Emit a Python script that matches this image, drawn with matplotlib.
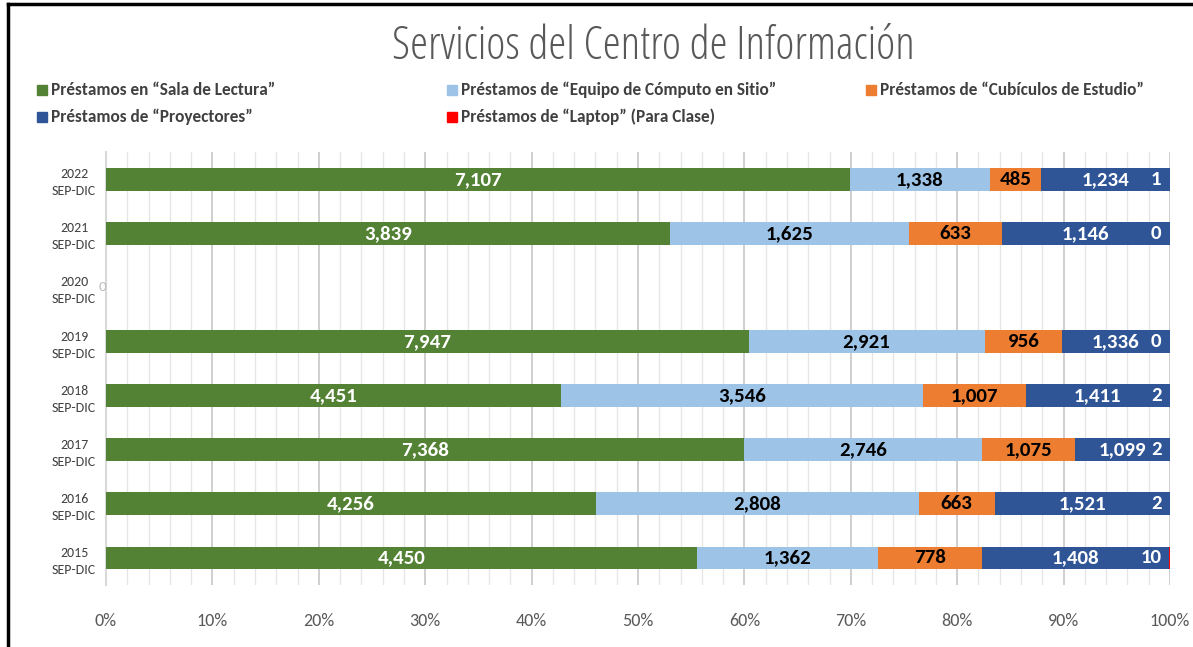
import numpy as np
import matplotlib
matplotlib.use("Agg")
import matplotlib.pyplot as plt
from matplotlib.patches import Rectangle
from matplotlib.lines import Line2D
from matplotlib.ticker import MultipleLocator, PercentFormatter

plt.rcParams['font.family'] = ['Carlito', 'DejaVu Sans']

# categories bottom -> top
periods = ["2015\nSEP-DIC", "2016\nSEP-DIC", "2017\nSEP-DIC", "2018\nSEP-DIC",
           "2019\nSEP-DIC", "2020\nSEP-DIC", "2021\nSEP-DIC", "2022\nSEP-DIC"]

sala_lectura = [4450, 4256, 7368, 4451, 7947, 0, 3839, 7107]
equipo_computo = [1362, 2808, 2746, 3546, 2921, 0, 1625, 1338]
cubiculos = [778, 663, 1075, 1007, 956, 0, 633, 485]
proyectores = [1408, 1521, 1099, 1411, 1336, 0, 1146, 1234]
laptop = [10, 2, 2, 2, 0, 0, 0, 1]

series_names = ["Préstamos en \u201cSala de Lectura\u201d",
                "Préstamos de \u201cEquipo de Cómputo en Sitio\u201d",
                "Préstamos de \u201cCubículos de Estudio\u201d",
                "Préstamos de \u201cProyectores\u201d",
                "Préstamos de \u201cLaptop\u201d (Para Clase)"]
colors = ["#548235", "#9DC3E6", "#ED7D31", "#2F5597", "#FF0000"]
label_colors = ["white", "black", "black", "white", "white"]

data = np.array([sala_lectura, equipo_computo, cubiculos, proyectores, laptop], dtype=float)
totals = data.sum(axis=0)
safe = np.where(totals == 0, 1, totals)
share = data / safe * 100

fig = plt.figure(figsize=(11.93, 6.47), dpi=100)
ax = fig.add_axes([0.0889, 0.0958, 0.8918, 0.669])

y = np.arange(len(periods))
left = np.zeros(len(periods))
for i in range(len(series_names)):
    ax.barh(y, share[i], left=left, height=0.42, color=colors[i], zorder=3,
            label=series_names[i])
    for j in range(len(periods)):
        if totals[j] == 0:
            continue
        txt = f"{int(data[i, j]):,}"
        if i == 4:
            # tiny segment at the end: keep label inside the plot
            ax.text(99.2, y[j], txt, ha='right', va='center', color='white',
                    fontsize=15, fontweight='bold', zorder=5)
        else:
            ax.text(left[j] + share[i, j] / 2, y[j], txt, ha='center', va='center',
                    color=label_colors[i], fontsize=15, fontweight='bold', zorder=5)
    left += share[i]

# zero row (2020)
zero_row = periods.index("2020\nSEP-DIC")
ax.text(-0.3, y[zero_row], "0", ha='center', va='center', color='#BFBFBF',
        fontsize=11, zorder=5)

ax.set_xlim(0, 100)
ax.set_ylim(-0.5, len(periods) - 0.5)
ax.set_yticks(y)
ax.set_yticklabels(periods, fontsize=10, color='#404040', ha='center', linespacing=1.5)
ax.tick_params(axis='y', length=0, pad=23)
ax.xaxis.set_major_locator(MultipleLocator(10))
ax.xaxis.set_minor_locator(MultipleLocator(2))
ax.xaxis.set_major_formatter(PercentFormatter(decimals=0))
ax.tick_params(axis='x', which='both', length=0, labelsize=13, colors='#595959', pad=20)
ax.grid(axis='x', which='major', color='#CCCCCC', linewidth=1.3, zorder=0)
ax.grid(axis='x', which='minor', color='#E6E6E6', linewidth=1.0, zorder=0)
for s in ['top', 'right', 'bottom']:
    ax.spines[s].set_visible(False)
ax.spines['left'].set_color('#D9D9D9')
ax.spines['left'].set_linewidth(1.5)

fig.text(0.548, 0.927, "Servicios del Centro de Información", ha='center', va='center',
         fontsize=33, color='#595959', family='Open Sans', fontstretch='condensed',
         fontweight=300)

# legend, laid out like the original
legend_pos = [(37, 90), (447, 90), (866, 90), (37, 117), (447, 117)]
W, H = 1193, 647
for (px, py), name, c in zip(legend_pos, series_names, colors):
    fig.patches.append(Rectangle((px / W, 1 - (py + 5) / H), 10 / W, 10 / H,
                                 color=c, transform=fig.transFigure))
    fig.text((px + 14) / W, 1 - py / H, name, ha='left', va='center',
             fontsize=12.4, fontweight='bold', color='#404040')

# black frame on left and top
fig.lines.append(Line2D([8 / W, 8 / W], [0, 1 - 4 / H], color='black', linewidth=2.5,
                        transform=fig.transFigure))
fig.lines.append(Line2D([8 / W, 1], [1 - 4 / H, 1 - 4 / H], color='black', linewidth=2.5,
                        transform=fig.transFigure))

fig.savefig("out.png", dpi=100)
